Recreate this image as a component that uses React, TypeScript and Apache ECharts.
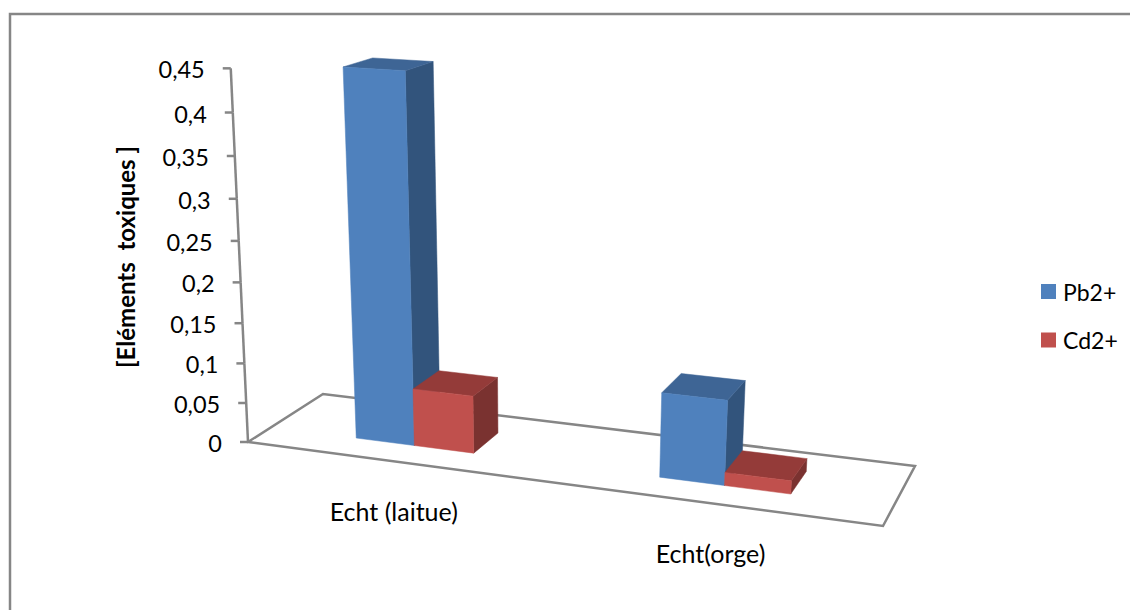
import React, { useEffect, useRef } from "react";
import * as echarts from "echarts";

const categories = ["Echt (laitue)", "Echt(orge)"];
const pbValues = [0.45, 0.103];
const cdValues = [0.072, 0.016];
const yTicks = [0, 0.05, 0.1, 0.15, 0.2, 0.25, 0.3, 0.35, 0.4, 0.45];
const yTickLabels = ["0", "0,05", "0,1", "0,15", "0,2", "0,25", "0,3", "0,35", "0,4", "0,45"];
const yTitle = "[Eléments  toxiques ]";

const FONT = "Lato";
const GRID = { left: 0, top: 0, width: 1000, height: 450 };
// Perspective camera: world (X, t, Z) in unit cube -> page pixels
const CAM = {
  a: 541.44, b: 100.31, c: 248,
  d: 28.26, e: -17.13, f: 442,
  g: -0.10596, h: 0.07836,
  q: -378.3, r: -0.0678,
};
const LEAN_BARS = -36.5;
const LEAN_AXIS = -32.9;
const Z_FRONT = 0.295;
const Z_BACK = 0.685;
const BAR_SHARE = 0.4; // share of a category band taken by one bar

function project(X: number, t: number, Z: number, lean = LEAN_BARS): number[] {
  const w = CAM.g * X + CAM.h * Z + CAM.r * t + 1;
  return [
    (CAM.a * X + CAM.b * Z + lean * t + CAM.c) / w,
    (CAM.d * X + CAM.e * Z + CAM.q * t + CAM.f) / w,
  ];
}
const normX = (px: number) => (px - GRID.left) / GRID.width;
const normT = (py: number) => (GRID.top + GRID.height - py) / GRID.height;

function shade(points: number[][], fill: string) {
  return { type: "polygon", shape: { points }, style: { fill, stroke: fill, lineWidth: 0.5 } };
}

function barRenderer(side: -1 | 1, front: string, top: string, right: string) {
  return (_p: any, api: any) => {
    const base = api.coord([api.value(0), 0]);
    const head = api.coord([api.value(0), api.value(1)]);
    const band = api.size([1, 0])[0];
    const centre = normX(base[0]);
    const edge = centre + (side * band * BAR_SHARE * 0.5) / GRID.width;
    const x0 = Math.min(centre, edge);
    const x1 = Math.max(centre, edge);
    const t = normT(head[1]);
    return {
      type: "group",
      children: [
        shade([project(x1, 0, Z_FRONT), project(x1, 0, Z_BACK), project(x1, t, Z_BACK), project(x1, t, Z_FRONT)], right),
        shade([project(x0, t, Z_FRONT), project(x1, t, Z_FRONT), project(x1, t, Z_BACK), project(x0, t, Z_BACK)], top),
        shade([project(x0, 0, Z_FRONT), project(x1, 0, Z_FRONT), project(x1, t, Z_FRONT), project(x0, t, Z_FRONT)], front),
      ],
    };
  };
}

const LINE = "#868686";
const lineStyle = { stroke: LINE, lineWidth: 2.5, fill: "none" };

export default function App() {
  const ref = useRef<HTMLDivElement>(null);
  useEffect(() => {
    const chart = echarts.init(ref.current!, null, { renderer: "svg" });
    chart.setOption({
      animation: false,
      backgroundColor: "#ffffff",
      grid: GRID,
      xAxis: { type: "category", data: categories, show: false },
      yAxis: { type: "value", min: 0, max: 0.45, interval: 0.05, show: false },
      legend: {
        data: ["Pb2+", "Cd2+"],
        orient: "vertical",
        left: 1036,
        top: 275,
        itemWidth: 15,
        itemHeight: 15,
        itemGap: 25.5,
        icon: "rect",
        textStyle: { fontFamily: FONT, fontSize: 23, color: "#000", padding: [0, 0, 0, 2] },
      },
      graphic: [
        { type: "polyline", shape: { points: [[10, 610], [10, 14], [1130, 14]] }, style: { stroke: LINE, lineWidth: 2.5, fill: "none" } },
        {
          type: "text",
          x: 125,
          y: 257,
          rotation: Math.PI / 2,
          style: { text: yTitle, fontFamily: FONT, fontSize: 24, fontWeight: "bold", fill: "#000", textAlign: "center", textVerticalAlign: "middle" },
        },
      ],
      series: [
        {
          type: "custom",
          name: "floor",
          silent: true,
          clip: false,
          data: [[0, 0]],
          encode: { x: 0, y: 1 },
          renderItem: () => ({
            type: "polygon",
            shape: { points: [project(0, 0, 0), project(1, 0, 0), project(1, 0, 1), project(0, 0, 1)] },
            style: lineStyle,
          }),
        },
        {
          type: "custom",
          name: "yaxis",
          silent: true,
          clip: false,
          data: yTicks.map((v) => [0, v]),
          encode: { x: 0, y: 1 },
          renderItem: (p: any, api: any) => {
            const t = normT(api.coord([0, api.value(1)])[1]);
            const at = project(0, t, 0, LEAN_AXIS);
            const next = project(0, Math.min(1, t + 1 / 9), 0, LEAN_AXIS);
            return {
              type: "group",
              children: [
                { type: "line", shape: { x1: at[0], y1: at[1], x2: next[0], y2: next[1] }, style: lineStyle },
                { type: "line", shape: { x1: at[0] - 8, y1: at[1], x2: at[0], y2: at[1] }, style: lineStyle },
                {
                  type: "text",
                  x: at[0] - 26,
                  y: at[1] + 1,
                  style: { text: yTickLabels[p.dataIndex], fontFamily: FONT, fontSize: 23.5, fill: "#000", textAlign: "right", textVerticalAlign: "middle" },
                },
              ],
            };
          },
        },
        {
          type: "custom",
          name: "Pb2+",
          silent: true,
          clip: false,
          itemStyle: { color: "#4F81BD" },
          data: pbValues.map((v, i) => [i, v]),
          encode: { x: 0, y: 1 },
          renderItem: barRenderer(-1, "#4F81BD", "#3E6595", "#32547C"),
        },
        {
          type: "custom",
          name: "Cd2+",
          silent: true,
          clip: false,
          itemStyle: { color: "#C0504D" },
          data: cdValues.map((v, i) => [i, v]),
          encode: { x: 0, y: 1 },
          renderItem: barRenderer(1, "#C0504D", "#943B39", "#7A3230"),
        },
        {
          type: "custom",
          name: "categories",
          silent: true,
          clip: false,
          data: categories.map((_, i) => [i, 0]),
          encode: { x: 0, y: 1 },
          renderItem: (p: any, api: any) => {
            const at = project(normX(api.coord([api.value(0), 0])[0]), 0, 0);
            return {
              type: "text",
              x: at[0],
              y: at[1] + 50,
              style: { text: categories[p.dataIndex], fontFamily: FONT, fontSize: 25, fill: "#000", textAlign: "center", textVerticalAlign: "middle" },
            };
          },
        },
      ],
    });
    return () => chart.dispose();
  }, []);
  return <div ref={ref} style={{ position: "absolute", left: 0, top: 0, width: 1130, height: 610 }} />;
}
